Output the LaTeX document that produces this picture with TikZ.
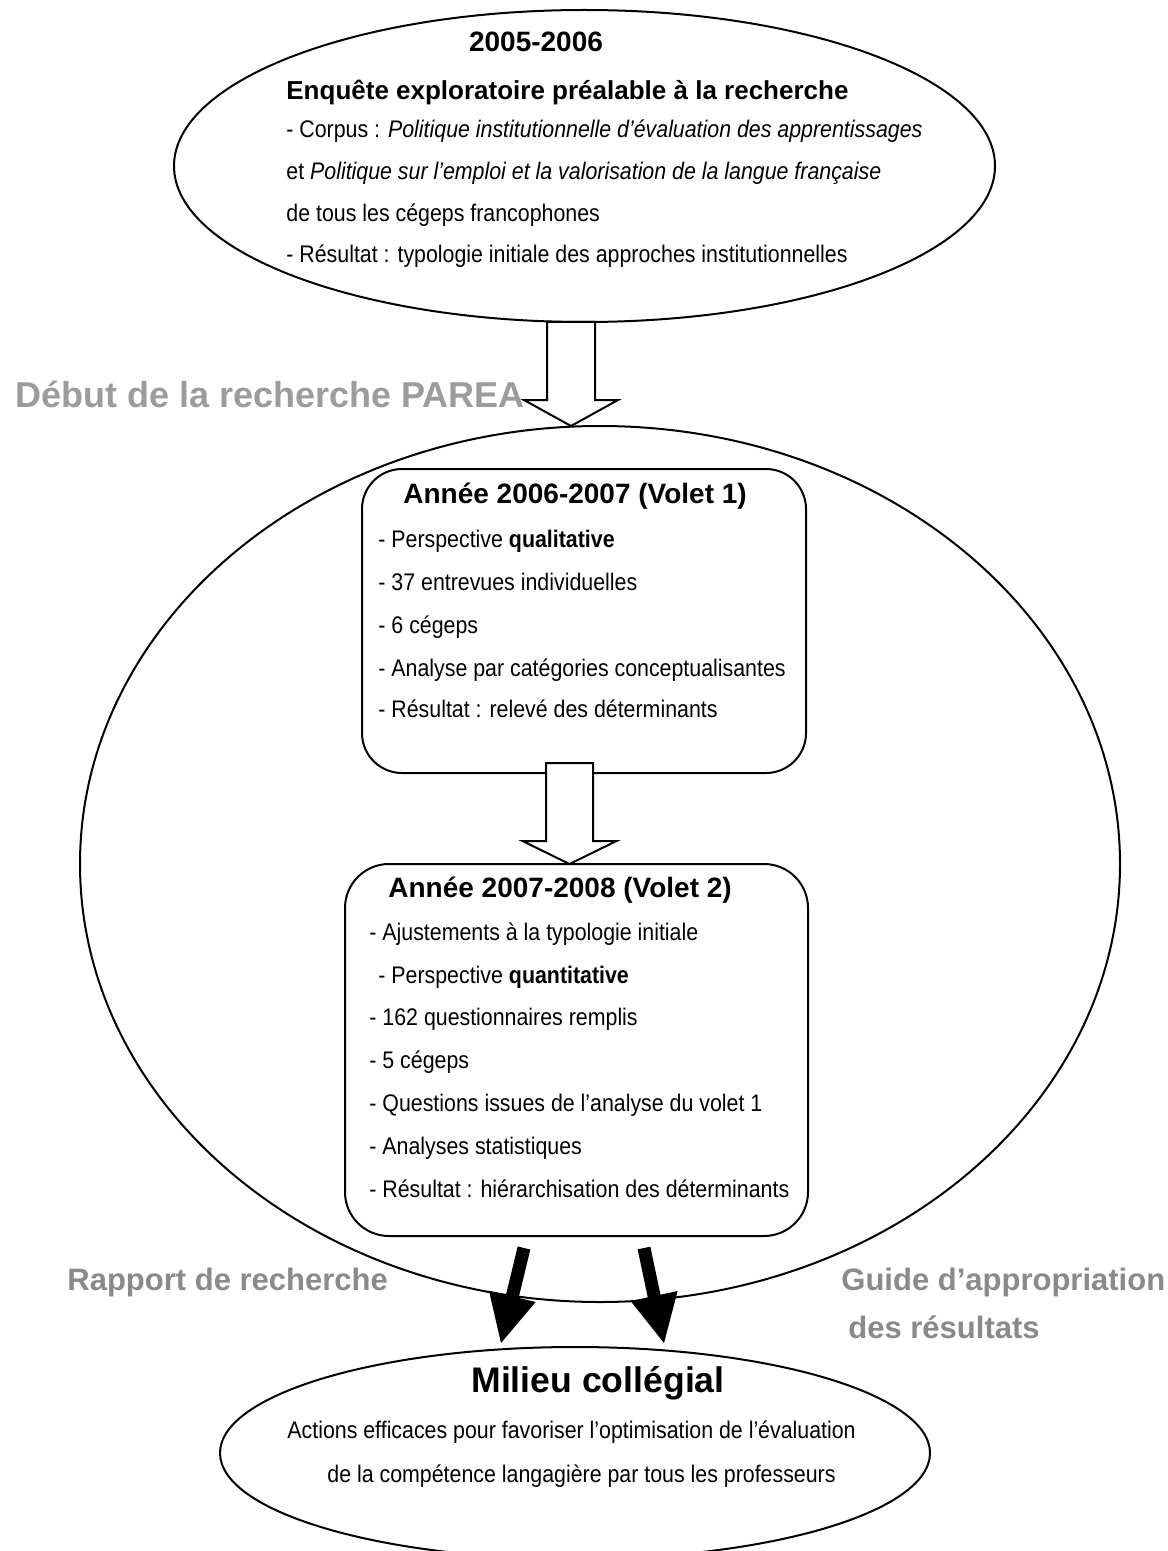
\documentclass[tikz,border=0pt]{standalone}
\usepackage{fontspec}
\setmainfont{Liberation Sans}
\newfontfamily\bodyfont[FakeStretch=0.89]{Liberation Sans}
\usetikzlibrary{shapes.geometric,calc}
\definecolor{lbl}{HTML}{8A8A8A}
\definecolor{lblb}{HTML}{9C9C9C}
\newcommand\hollowarrow[5]{%
  \draw[outline,fill=white,line join=miter] ($(#1)+(-#3,0)$) -- ($(#1)+(#3,0)$) -- ($(#2)+(#3,-#5)$) -- ($(#2)+(#4,-#5)$) -- (#2) -- ($(#2)+(-#4,-#5)$) -- ($(#2)+(-#3,-#5)$) -- cycle;}
\newcommand\blackarrow[3]{%
  \fill ($(#1)!3.25pt!90:(#2)$) -- ($(#3)!3.25pt!-90:(#1)$) -- ($(#3)!12pt!-90:(#1)$) -- (#2) -- ($(#3)!12pt!90:(#1)$) -- ($(#3)!3.25pt!90:(#1)$) -- ($(#1)!3.25pt!-90:(#2)$) -- cycle;}
\begin{document}
\begin{tikzpicture}[x=0.5pt,y=-0.5pt,
  outline/.style={draw=black,line width=1pt},
  ell/.style={outline,ellipse,inner sep=0pt,outer sep=0pt},
  rbox/.style={outline,rectangle,inner sep=0pt,outer sep=0pt},
  txt/.style={anchor=base west,inner sep=0pt,font=\bodyfont\fontsize{12}{14}\selectfont},
  head/.style={inner sep=0pt,font=\fontsize{14}{16}\selectfont\bfseries},
  glabel/.style={inner sep=0pt,text=lbl,font=\fontsize{15.5}{17}\selectfont\bfseries}]
\fill[white] (0,0) rectangle (1167,1551);
\useasboundingbox (0,0) rectangle (1167,1551);

% containers
\node[ell,minimum width=410.5pt,minimum height=156pt] (top) at (584.5,166) {};
\node[ell,minimum width=520pt,minimum height=438pt] (big) at (600,864) {};
\node[rbox,rounded corners=20pt,minimum width=222pt,minimum height=152pt] (box1) at (584,621) {};
\node[rbox,rounded corners=22pt,minimum width=231.5pt,minimum height=186pt] (box2) at (576.5,1050) {};
\node[ell,minimum width=355pt,minimum height=106pt] (bot) at (575,1453) {};

% hollow arrows
\coordinate (a1t) at ($(top.south)+(-13.5,0)$);
\coordinate (a1h) at (a1t |- big.north);
\hollowarrow{a1t}{a1h}{24}{47}{26}
\coordinate (a2t) at ($(box1.south)+(-14.5,-10)$);
\coordinate (a2h) at (a2t |- box2.north);
\hollowarrow{a2t}{a2h}{23.5}{47}{23}

% black arrows
\coordinate (b1t) at ($(box2.south)+(-52.5,12)$);
\coordinate (b1h) at ($(bot.north)+(-74,-4)$);
\coordinate (b1c) at ($(b1h)!24pt!(b1t)$);
\blackarrow{b1t}{b1h}{b1c}
\coordinate (b2t) at ($(box2.south)+(67.5,12)$);
\coordinate (b2h) at ($(bot.north)+(89,-4)$);
\coordinate (b2c) at ($(b2h)!24pt!(b2t)$);
\blackarrow{b2t}{b2h}{b2c}

% top ellipse text
\node[head,anchor=base] (t0) at (536,52) {2005-2006};
\node[head,anchor=base west,font=\fontsize{13}{15}\selectfont\bfseries] (t1) at (286,100) {Enquête exploratoire préalable à la recherche};
\node[txt] (t2) at (286,138) {- Corpus : \textit{Politique institutionnelle d’évaluation des apprentissages}};
\node[txt] (t3) at (286,180) {et \textit{Politique sur l’emploi et la valorisation de la langue française}};
\node[txt] (t4) at (286,222) {de tous les cégeps francophones};
\node[txt] (t5) at (286,263) {- Résultat : typologie initiale des approches institutionnelles};

% box 1 text
\node[head,anchor=base west] (h1) at (403,503) {Année 2006-2007 (Volet 1)};
\node[txt] (p1) at (378,547) {- Perspective \textbf{qualitative}};
\node[txt] (p2) at (378,590) {- 37 entrevues individuelles};
\node[txt] (p3) at (378,633) {- 6 cégeps};
\node[txt] (p4) at (378,676) {- Analyse par catégories conceptualisantes};
\node[txt] (p5) at (378,717) {- Résultat : relevé des déterminants};

% box 2 text
\node[head,anchor=base west] (h2) at (388,897) {Année 2007-2008 (Volet 2)};
\node[txt] (q1) at (369,940) {- Ajustements à la typologie initiale};
\node[txt] (q2) at (378,983) {- Perspective \textbf{quantitative}};
\node[txt] (q3) at (369,1025) {- 162 questionnaires remplis};
\node[txt] (q4) at (369,1068) {- 5 cégeps};
\node[txt] (q5) at (369,1111) {- Questions issues de l’analyse du volet 1};
\node[txt] (q6) at (369,1154) {- Analyses statistiques};
\node[txt] (q7) at (369,1197) {- Résultat : hiérarchisation des déterminants};

% side labels
\node[glabel,text=lblb,anchor=base east,font=\fontsize{18}{20}\selectfont\bfseries] (debut) at (525,408) {Début de la recherche PAREA};
\node[glabel,anchor=base west] (rapport) at (67,1290) {Rapport de recherche};
\node[glabel,anchor=base west] (guide1) at (841,1290) {Guide d’appropriation};
\node[glabel,anchor=base west] (guide2) at (848,1338) {des résultats};

% bottom ellipse text
\node[inner sep=0pt,anchor=base,font=\fontsize{17.8}{19}\selectfont\bfseries] (milieu) at (598,1392) {Milieu collégial};
\node[txt] (m1) at (287,1438) {Actions efficaces pour favoriser l’optimisation de l’évaluation};
\node[txt] (m2) at (327,1482) {de la compétence langagière par tous les professeurs};
\end{tikzpicture}
\end{document}
